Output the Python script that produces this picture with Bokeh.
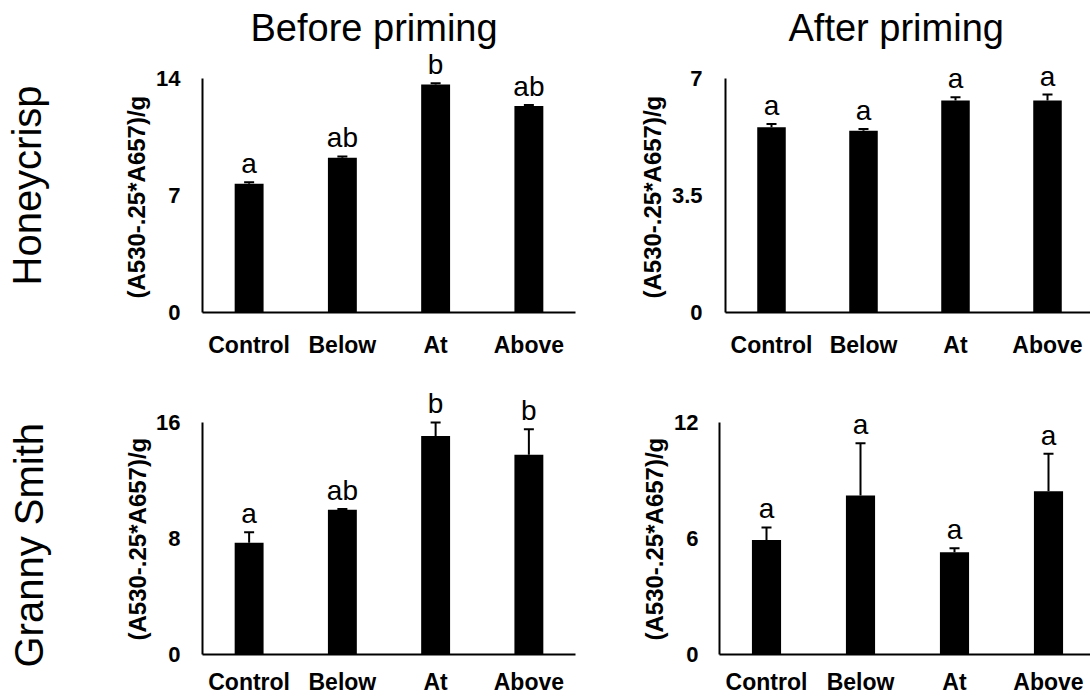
from bokeh.plotting import figure
from bokeh.models import (ColumnDataSource, Range1d, FixedTicker, Whisker, TeeHead, Title)
from bokeh.layouts import column, row
from bokeh.core.properties import value
from bokeh.embed import file_html
from bokeh.resources import INLINE

# ---------------- data ----------------
categories = ["Control", "Below", "At", "Above"]
col_titles = ["Before priming", "After priming"]
row_titles = ["Honeycrisp", "Granny Smith"]
y_label = "(A530-.25*A657)/g"

hc_before_mean = [7.70, 9.26, 13.64, 12.35]
hc_before_err = [0.10, 0.08, 0.07, 0.06]
hc_before_letters = ["a", "ab", "b", "ab"]
hc_before_ticks = [0, 7, 14]
hc_before_tick_labels = ["0", "7", "14"]

hc_after_mean = [5.54, 5.44, 6.34, 6.34]
hc_after_err = [0.10, 0.05, 0.10, 0.18]
hc_after_letters = ["a", "a", "a", "a"]
hc_after_ticks = [0, 3.5, 7]
hc_after_tick_labels = ["0", "3.5", "7"]

gs_before_mean = [7.69, 9.96, 15.04, 13.75]
gs_before_err = [0.73, 0.06, 0.94, 1.75]
gs_before_letters = ["a", "ab", "b", "b"]
gs_before_ticks = [0, 8, 16]
gs_before_tick_labels = ["0", "8", "16"]

gs_after_mean = [5.93, 8.24, 5.30, 8.46]
gs_after_err = [0.65, 2.70, 0.20, 1.94]
gs_after_letters = ["a", "a", "a", "a"]
gs_after_ticks = [0, 6, 12]
gs_after_tick_labels = ["0", "6", "12"]

FONT = "Liberation Sans"


def make_title(text, size, style, offset, standoff, pad_bottom=0):
    return Title(text=text, align="left", offset=offset, standoff=standoff,
                 padding=dict(top=0, right=0, bottom=pad_bottom, left=0),
                 text_font=FONT, text_font_size=size, text_font_style=style,
                 text_color="black")


def make_panel(means, errs, letters, ticks, tick_labels, geo):
    xs = [i + 0.5 for i in range(len(categories))]
    src = ColumnDataSource(dict(
        x=xs, top=means,
        upper=[m + e for m, e in zip(means, errs)],
        letter=letters,
    ))
    p = figure(width=geo["w"], height=geo["h"], title=None,
               x_range=Range1d(0, geo["x_end"]), y_range=Range1d(0, geo["y_end"]),
               output_backend="svg", toolbar_location=None,
               min_border_left=geo["bl"], min_border_right=geo["br"],
               min_border_top=geo["bt"], min_border_bottom=geo["bb"])
    p.outline_line_color = None
    p.grid.visible = False
    p.background_fill_color = "white"
    p.border_fill_color = "white"

    p.vbar(x="x", top="top", bottom=0, width=0.31, source=src,
           fill_color="black", line_color=None)
    w = Whisker(source=src, base="x", lower="top", upper="upper", dimension="height",
                line_color="black", line_width=2, lower_head=None,
                upper_head=TeeHead(size=10, line_color="black", line_width=2))
    p.add_layout(w)
    p.text(x="x", y="upper", text="letter", source=src, text_align="center",
           text_baseline="bottom", y_offset=-3,
           text_font=value(FONT), text_font_size=value("28px"), text_color="black")

    xa = p.xaxis[0]
    xa.ticker = FixedTicker(ticks=xs)
    xa.major_label_overrides = {x: c for x, c in zip(xs, categories)}
    xa.major_label_text_font = FONT
    xa.major_label_text_font_size = "23px"
    xa.major_label_text_font_style = "bold"
    xa.major_label_text_color = "black"
    xa.major_label_standoff = geo["xs"]
    xa.axis_line_width = 2
    xa.axis_line_color = "black"
    xa.major_tick_line_color = None
    xa.minor_tick_line_color = None
    xa.major_tick_in = 0
    xa.major_tick_out = 0

    ya = p.yaxis[0]
    ya.ticker = FixedTicker(ticks=ticks)
    ya.major_label_overrides = {t: l for t, l in zip(ticks, tick_labels)}
    ya.bounds = (ticks[0], ticks[-1])
    ya.major_label_text_font = FONT
    ya.major_label_text_font_size = "22px"
    ya.major_label_text_font_style = "bold"
    ya.major_label_text_color = "black"
    ya.major_label_standoff = geo["ys"]
    ya.axis_line_width = 2
    ya.axis_line_color = "black"
    ya.major_tick_line_color = None
    ya.minor_tick_line_color = None
    ya.major_tick_in = 0
    ya.major_tick_out = 0

    # y-axis quantity label as a left-side title (offset from the frame bottom)
    p.add_layout(make_title(y_label, "24px", "bold", 14, geo["ls"]), "left")
    return p


# layout geometry (pixels)
geo_tl = dict(w=580, h=370, bl=202, br=5, bt=50, bb=58, x_end=4.0,
              y_end=14 * 262 / 234, xs=19, ys=22, ls=7)
geo_tr = dict(w=510, h=370, bl=145, br=0, bt=50, bb=58, x_end=365 / 92,
              y_end=7 * 262 / 234, xs=19, ys=23, ls=5)
geo_bl = dict(w=580, h=327, bl=202, br=5, bt=15, bb=40, x_end=4.0,
              y_end=16 * 272 / 235, xs=14, ys=22, ls=5)
geo_br = dict(w=510, h=327, bl=139, br=0, bt=15, bb=40, x_end=371 / 94,
              y_end=12 * 272 / 234.3, xs=14, ys=21, ls=8)

p_tl = make_panel(hc_before_mean, hc_before_err, hc_before_letters,
                  hc_before_ticks, hc_before_tick_labels, geo_tl)
p_tr = make_panel(hc_after_mean, hc_after_err, hc_after_letters,
                  hc_after_ticks, hc_after_tick_labels, geo_tr)
p_bl = make_panel(gs_before_mean, gs_before_err, gs_before_letters,
                  gs_before_ticks, gs_before_tick_labels, geo_bl)
p_br = make_panel(gs_after_mean, gs_after_err, gs_after_letters,
                  gs_after_ticks, gs_after_tick_labels, geo_br)

# column titles
p_tl.add_layout(make_title(col_titles[0], "38px", "normal", 48, 3), "above")
p_tr.add_layout(make_title(col_titles[1], "38px", "normal", 63, 3), "above")

# row titles
p_tl.add_layout(make_title(row_titles[0], "40px", "normal", 27, 2, 68), "left")
p_bl.add_layout(make_title(row_titles[1], "40px", "normal", -13, 2, 68), "left")

layout = column(row(p_tl, p_tr), row(p_bl, p_br))
open("out.html", "w").write(file_html(layout, INLINE))
